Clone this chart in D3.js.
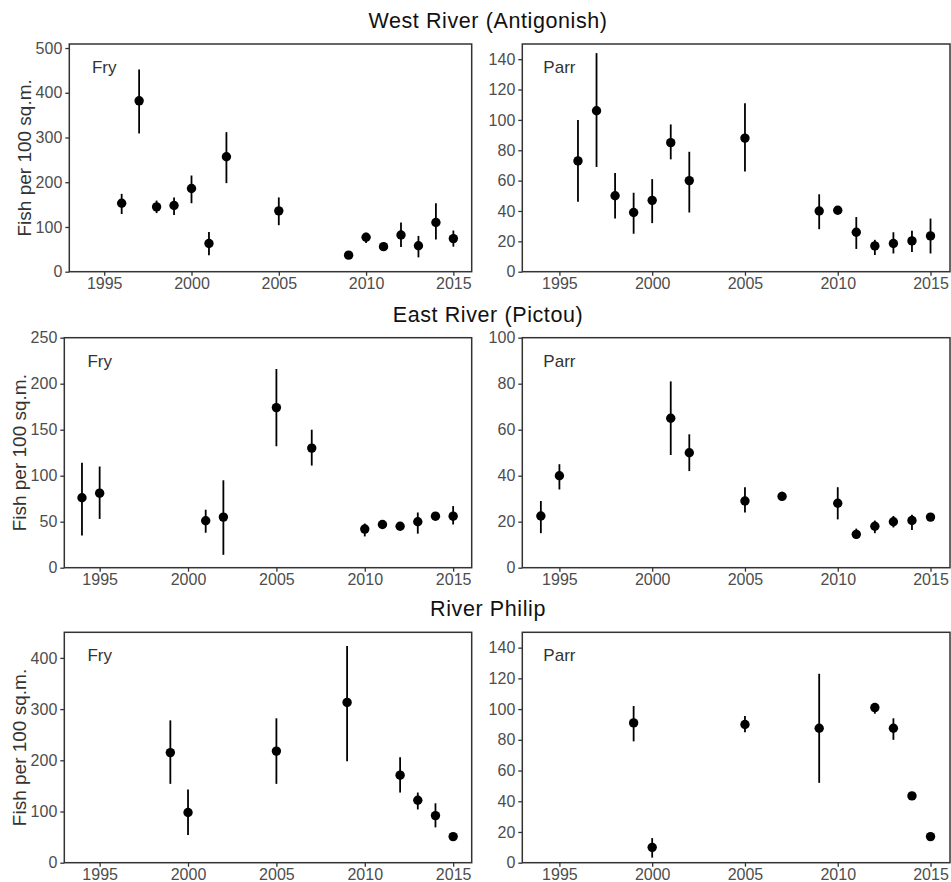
<!DOCTYPE html>
<html>
<head>
<meta charset="utf-8">
<script src="https://cdn.jsdelivr.net/npm/d3@7"></script>
<style>
  html, body { margin: 0; padding: 0; background: #fff; }
  svg { display: block; font-family: "Liberation Sans", Arial, sans-serif; }
</style>
</head>
<body>
<svg id="chart" width="951" height="882"></svg>
<script>
// Juvenile salmon densities (fish per 100 sq.m.) with error bars, by river and life stage.

const rivers = ["West River (Antigonish)", "East River (Pictou)", "River Philip"];
const stages = ["Fry", "Parr"];
const xTicks = [1995, 2000, 2005, 2010, 2015];

// West River (Antigonish)
const westFryYears = [1996, 1997, 1998, 1999, 2000, 2001, 2002, 2005, 2009, 2010, 2011, 2012, 2013, 2014, 2015];
const westFryMean  = [153, 382, 145, 148, 186, 63, 257, 136, 37, 77, 56, 82, 58, 110, 74];
const westFryLow   = [129, 309, 131, 127, 153, 37, 198, 104, 30, 64, 50, 55, 32, 72, 56];
const westFryHigh  = [174, 452, 159, 166, 215, 89, 312, 166, 44, 87, 62, 110, 80, 153, 92];

const westParrYears = [1996, 1997, 1998, 1999, 2000, 2001, 2002, 2005, 2009, 2010, 2011, 2012, 2013, 2014, 2015];
const westParrMean  = [73, 106, 50, 39, 47, 85, 60, 88, 40, 40.5, 26, 17, 18.6, 20.3, 23.6];
const westParrLow   = [46, 69, 35, 25, 32, 74, 39, 66, 28, 38, 15, 11, 12, 13, 12];
const westParrHigh  = [100, 144, 65, 52, 61, 97, 79, 111, 51, 43, 36, 21, 26, 27, 35];

// East River (Pictou)
const eastFryYears = [1994, 1995, 2001, 2002, 2005, 2007, 2010, 2011, 2012, 2013, 2014, 2015];
const eastFryMean  = [76, 81, 51, 55, 174, 130, 42, 47, 45, 50, 56, 56];
const eastFryLow   = [35, 53, 38, 14, 132, 111, 34, 42, 41, 37, 52, 47];
const eastFryHigh  = [114, 110, 63, 95, 216, 150, 48, 51, 48, 60, 59, 67];

const eastParrYears = [1994, 1995, 2001, 2002, 2005, 2007, 2010, 2011, 2012, 2013, 2014, 2015];
const eastParrMean  = [22.5, 40, 65, 50, 29, 31, 28, 14.5, 18, 20, 20.5, 22];
const eastParrLow   = [15, 34, 49, 42, 24, 29, 21, 12.5, 15, 17.5, 16.4, 21];
const eastParrHigh  = [29, 45, 81, 58, 35, 33, 35, 17, 20.5, 22.5, 23, 23.5];

// River Philip
const philipFryYears = [1999, 2000, 2005, 2009, 2012, 2013, 2014, 2015];
const philipFryMean  = [215, 98, 218, 313, 171, 122, 92, 51];
const philipFryLow   = [154, 54, 154, 198, 137, 104, 69, 46];
const philipFryHigh  = [278, 143, 282, 423, 206, 137, 116, 55];

const philipParrYears = [1999, 2000, 2005, 2009, 2012, 2013, 2014, 2015];
const philipParrMean  = [91, 10, 90, 87.5, 101, 87.5, 43.5, 17];
const philipParrLow   = [79, 3.3, 85, 52, 97, 80, 42, 15.5];
const philipParrHigh  = [102, 16, 95.5, 123, 104, 94, 45, 18.5];

// Axis limits and ticks per panel
const yMax   = [[509, 150], [250, 100], [450, 150]];
const yTicks = [
  [[0, 100, 200, 300, 400, 500], [0, 20, 40, 60, 80, 100, 120, 140]],
  [[0, 50, 100, 150, 200, 250], [0, 20, 40, 60, 80, 100]],
  [[0, 100, 200, 300, 400], [0, 20, 40, 60, 80, 100, 120, 140]]
];
const xDomain = [1993, 2016.05];

const series = [
  [
    { years: westFryYears, mean: westFryMean, low: westFryLow, high: westFryHigh },
    { years: westParrYears, mean: westParrMean, low: westParrLow, high: westParrHigh }
  ],
  [
    { years: eastFryYears, mean: eastFryMean, low: eastFryLow, high: eastFryHigh },
    { years: eastParrYears, mean: eastParrMean, low: eastParrLow, high: eastParrHigh }
  ],
  [
    { years: philipFryYears, mean: philipFryMean, low: philipFryLow, high: philipFryHigh },
    { years: philipParrYears, mean: philipParrMean, low: philipParrLow, high: philipParrHigh }
  ]
];

// Panel layout
const rowTop    = [44, 337.7, 632.3];
const rowBottom = [271.7, 567.7, 862.7];
const titleBase = [28, 321.7, 616];
const colLeft   = [[69.3, 522.3], [64.3, 522.3], [64.3, 522.3]];
const colRight  = [471.7, 950];

const svg = d3.select("#chart");

rivers.forEach((river, r) => {
  svg.append("text")
    .attr("x", 488)
    .attr("y", titleBase[r])
    .attr("text-anchor", "middle")
    .attr("font-size", 21.5)
    .attr("letter-spacing", 0.6)
    .attr("fill", "#111")
    .text(river);

  stages.forEach((stage, c) => {
    const left = colLeft[r][c], right = colRight[c];
    const top = rowTop[r], bottom = rowBottom[r];
    const x = d3.scaleLinear().domain(xDomain).range([left, right]);
    const y = d3.scaleLinear().domain([0, yMax[r][c]]).range([bottom, top]);
    const s = series[r][c];
    const g = svg.append("g");

    // x axis
    const xa = g.append("g")
      .attr("transform", `translate(0,${bottom})`)
      .call(d3.axisBottom(x).tickValues(xTicks).tickFormat(d3.format("d")).tickSize(4).tickPadding(2).tickSizeOuter(0));
    // y axis
    const ya = g.append("g")
      .attr("transform", `translate(${left},0)`)
      .call(d3.axisLeft(y).tickValues(yTicks[r][c]).tickSize(4).tickPadding(3).tickSizeOuter(0));

    [xa, ya].forEach(a => {
      a.select(".domain").remove();
      a.selectAll(".tick line").attr("stroke", "#333").attr("stroke-width", 1.3);
      a.selectAll(".tick text")
        .attr("fill", "#4d4d4d")
        .attr("font-size", 16)
        .attr("font-family", "Liberation Sans, Arial, sans-serif");
    });

    // panel border
    g.append("rect")
      .attr("x", left).attr("y", top)
      .attr("width", right - left).attr("height", bottom - top)
      .attr("fill", "none").attr("stroke", "#333").attr("stroke-width", 1.5);

    // stage label
    g.append("text")
      .attr("x", x(1995))
      .attr("y", y(yMax[r][c] * 0.9))
      .attr("dy", "0.35em")
      .attr("text-anchor", "middle")
      .attr("font-size", 17)
      .attr("fill", "#333")
      .text(stage);

    const pts = s.years.map((yr, i) => ({ yr, m: s.mean[i], lo: s.low[i], hi: s.high[i] }));

    g.selectAll("line.err").data(pts).enter().append("line")
      .attr("class", "err")
      .attr("x1", d => x(d.yr)).attr("x2", d => x(d.yr))
      .attr("y1", d => y(d.lo)).attr("y2", d => y(d.hi))
      .attr("stroke", "#000").attr("stroke-width", 1.8);

    g.selectAll("circle.pt").data(pts).enter().append("circle")
      .attr("class", "pt")
      .attr("cx", d => x(d.yr)).attr("cy", d => y(d.m))
      .attr("r", 4.7)
      .attr("fill", "#000");

    // y axis title on left column
    if (c === 0) {
      svg.append("text")
        .attr("transform", `translate(${left - 44.5},${(top + bottom) / 2}) rotate(-90)`)
        .attr("text-anchor", "middle")
        .attr("dy", "0.35em")
        .attr("font-size", 19)
        .attr("fill", "#333")
        .text("Fish per 100 sq.m.");
    }
  });
});
</script>
</body>
</html>
